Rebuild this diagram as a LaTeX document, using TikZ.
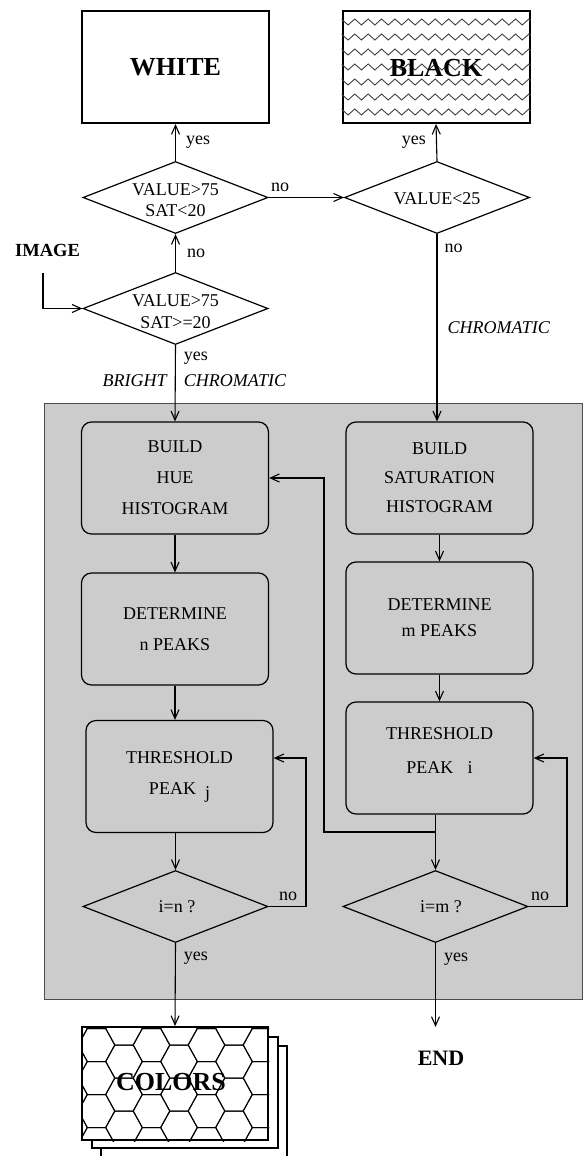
\documentclass[tikz,border=0pt]{standalone}
\usepackage{fontspec}
\setmainfont{Liberation Serif}
\usetikzlibrary{shapes.geometric,arrows.meta,decorations.pathmorphing}
\definecolor{panelgray}{gray}{0.8}
\begin{document}
\begin{tikzpicture}[x=1pt,y=-1pt,>={Straight Barb[length=9pt,width=8pt]},
  flow/.style={line width=1.1pt,->},
  proc/.style={draw,line width=1.2pt,rounded corners=10pt,minimum width=187pt,minimum height=112pt,
    inner sep=0pt,align=center,font=\fontsize{18}{31}\selectfont},
  bigbox/.style={draw,line width=2pt,fill=white,minimum width=187pt,minimum height=112pt,inner sep=0pt},
  decision/.style={diamond,draw,line width=1.2pt,minimum width=185pt,minimum height=72pt,inner sep=0pt},
  dtext/.style={align=center,inner sep=0pt,font=\fontsize{18}{21.5}\selectfont},
  bigtext/.style={font=\fontsize{26}{30}\selectfont\bfseries},
  lbl/.style={inner sep=1pt,font=\fontsize{18}{20}\selectfont},
  ilbl/.style={lbl,font=\fontsize{18}{20}\selectfont\itshape}]
\def\hexcell{(18.3,0) -- (9.2,16.5) -- (-9.2,16.5) -- (-18.3,0) -- (-9.2,-16.5) -- (9.2,-16.5) -- cycle}
\useasboundingbox (0,0) rectangle (585,1156);
\filldraw[fill=panelgray,draw=black!70,line width=1pt] (44,403) rectangle (582,999);
% outcomes on top
\node[bigbox,bigtext] (white) at (175.5,67) {WHITE};
\node[bigbox] (black) at (436,67) {};
    \begin{scope}% wavy fill of the black box
        \clip (black.south west) rectangle (black.north east);
    \foreach \r in {0,...,6}
        \draw[black!75,line width=0.9pt,decorate,decoration={zigzag,segment length=13.4pt,amplitude=3pt}]
            (338,22+15*\r) -- (536,22+15*\r);
    \end{scope}
\node[bigtext] (blackt) at (436,68) {BLACK};
% tests
\node[decision] (d1) at (175.5,197.5) {};
\node[dtext] (d1t) at (175.5,200) {VALUE>75\\SAT<20};
\node[decision] (d2) at (437,197.5) {};
\node[dtext] (d2t) at (437,199) {VALUE<25};
\node[decision] (d3) at (175.5,308.5) {};
\node[dtext] (d3t) at (175.5,311.5) {VALUE>75\\SAT>=20};
\node[font=\fontsize{18.5}{22}\selectfont\bfseries] (image) at (47.5,250) {IMAGE};
\coordinate (imgin) at (43,273);
\draw[flow] (imgin) |- (d3.west);
\draw[flow] (d3.north) -- node[lbl,right=10pt] {no} (d1.south);
\draw[flow] (d1.north) -- node[lbl,right=9pt] {yes} (white.south);
\draw[flow] (d2.north) -- node[lbl,left=9pt] {yes} (black.south);
\draw[flow] (d1.east) -- node[lbl,pos=0,anchor=south west,yshift=4pt,xshift=1pt] {no} (d2.west);
% histogram loops
\node[proc] (b1) at (175,478) {BUILD\\HUE\\HISTOGRAM};
\node[proc] (b2) at (175,629) {DETERMINE\\n PEAKS};
\node[proc] (b3) at (179.5,776.5) {THRESHOLD\\PEAK\hspace{0.5em}\raisebox{-4pt}{j}};
\node[decision] (d4) at (175.5,906.5) {};
\node[dtext] (d4t) at (177,907) {i=n ?};
\node[proc,font=\fontsize{18}{29}\selectfont] (b4) at (439.5,478) {BUILD\\SATURATION\\HISTOGRAM};
\node[proc,font=\fontsize{18}{26}\selectfont] (b5) at (439.5,618) {DETERMINE\\m PEAKS};
\node[proc,font=\fontsize{18}{34}\selectfont] (b6) at (439.5,758) {THRESHOLD\\PEAK\hspace{0.8em}i\\[-20pt]~};
\node[decision] (d5) at (435.5,906.5) {};
\node[dtext] (d5t) at (441,907) {i=m ?};
\draw[flow] (d3.south) -- node[lbl,pos=0.17,right=7pt] {yes}
    node[ilbl,pos=0.47,left=7pt] {BRIGHT} node[ilbl,pos=0.47,right=7pt] {CHROMATIC} (b1.north);
\draw[flow] (d2.south) -- node[lbl,pos=0.075,right=6pt] {no}
    node[ilbl,pos=0.5,right=9pt] {CHROMATIC} (d2 |- b4.north);
\draw[flow] (b1.south) -- (b2.north);
\draw[flow] (b2.south) -- (b2.south |- b3.north);
\draw[flow] (d4 |- b3.south) -- (d4.north);
\draw[flow] (b4.south) -- (b5.north);
\draw[flow] (b5.south) -- (b6.north);
\draw[flow] (d5 |- b6.south) -- (d5.north);
\coordinate (fbl) at (306,758);
\coordinate (fbr) at (567,758);
\coordinate (j1) at (435.5,832);
\coordinate (fbh) at (324,478);
\draw[flow] (d4.east) -| node[lbl,pos=0,anchor=south west,yshift=4pt,xshift=9pt] {no} (fbl) -- (b3.east |- fbl);
\draw[flow] (d5.east) -| node[lbl,pos=0,anchor=south west,yshift=4pt,xshift=1pt] {no} (fbr) -- (b6.east |- fbr);
\draw[flow] (j1) -| (fbh) -- (b1.east);
% results at the bottom
\draw[line width=2pt,fill=white] (101,1046) rectangle (287,1162);
\draw[line width=2pt,fill=white] (92,1037) rectangle (278,1148);
\node[bigbox,minimum width=186pt,minimum height=113pt] (colors) at (175,1083.5) {};
    \begin{scope}% honeycomb fill
        \clip (colors.south west) rectangle (colors.north east);
    \foreach \i in {0,...,8}
      \foreach \j in {-1,...,4} {
        \pgfmathsetmacro\hx{69+27.5*\i}
        \pgfmathsetmacro\hy{1028.5+33*\j+16.5*mod(\i,2)}
        \draw[line width=1pt,shift={(\hx,\hy)}] \hexcell;
      }
    \end{scope}
\node[bigtext] (colorst) at (171,1082) {COLORS};
\node[font=\fontsize{22}{26}\selectfont\bfseries] (endn) at (441,1058) {END};
\coordinate (endtop) at (435.5,1027);
\draw[flow] (d4.south) -- node[lbl,pos=0.18,right=7pt] {yes} (colors.north);
\draw[flow] (d5.south) -- node[lbl,pos=0.19,right=7pt] {yes} (endtop);
\end{tikzpicture}
\end{document}
